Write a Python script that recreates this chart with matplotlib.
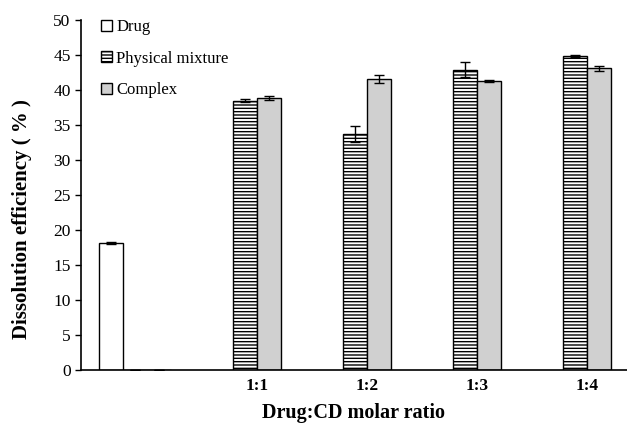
import matplotlib
matplotlib.use("Agg")
import matplotlib.pyplot as plt
import numpy as np

plt.rcParams['font.family'] = ['Liberation Serif', 'DejaVu Serif']
plt.rcParams['hatch.linewidth'] = 1.0

categories = ["", "1:1", "1:2", "1:3", "1:4"]
drug = [18.2]
drug_err = [0.15]
physical = [0, 38.5, 33.7, 42.9, 44.9]
physical_err = [0, 0.2, 1.1, 1.1, 0.15]
complex_ = [0, 38.9, 41.6, 41.3, 43.1]
complex_err = [0, 0.3, 0.6, 0.15, 0.35]

fig = plt.figure(figsize=(6.27, 4.23), dpi=100)
ax = fig.add_axes([81/627, 1-370/423, 1-81/627, 350/423])

x = np.arange(len(categories))
w = 24/110

ekw = dict(ecolor='black', elinewidth=1.0, capsize=3.5, capthick=1.0)
ax.bar(x[:1] - 1.5*w, drug, w, color='white', edgecolor='black',
       linewidth=1.0, label='Drug', yerr=drug_err, error_kw=ekw)
ax.bar(x - 0.5*w, physical, w, color='white', edgecolor='black', hatch='-----',
       linewidth=1.0, label='Physical mixture', yerr=physical_err, error_kw=ekw)
ax.bar(x + 0.5*w, complex_, w, color='#d0d0d0', edgecolor='black',
       linewidth=1.0, label='Complex', yerr=complex_err, error_kw=ekw)

ax.set_xlim(-0.6, (627-147)/110)
ax.set_ylim(0, 50)
ax.set_yticks(np.arange(0, 51, 5))
ax.set_xticks(x)
ax.set_xticklabels(categories, fontweight='bold', fontsize=12.5)
ax.tick_params(axis='x', length=0, pad=6)
ax.tick_params(axis='y', direction='out', length=4, labelsize=12.5, width=1)
for s in ['top', 'right']:
    ax.spines[s].set_visible(False)
ax.spines['left'].set_linewidth(1.2)
ax.spines['bottom'].set_linewidth(1.2)

ax.set_ylabel('Dissolution efficiency ( % )', fontweight='bold', fontsize=15)
ax.yaxis.set_label_coords(-0.09, 0.43)
ax.set_xlabel('Drug:CD molar ratio', fontweight='bold', fontsize=14.5, labelpad=6)

leg = ax.legend(loc='upper left', bbox_to_anchor=(0.01, 1.045), frameon=False,
                fontsize=12, handlelength=0.65, handleheight=0.65, handletextpad=0.25,
                labelspacing=0.92)

fig.savefig('out.png', dpi=100)
